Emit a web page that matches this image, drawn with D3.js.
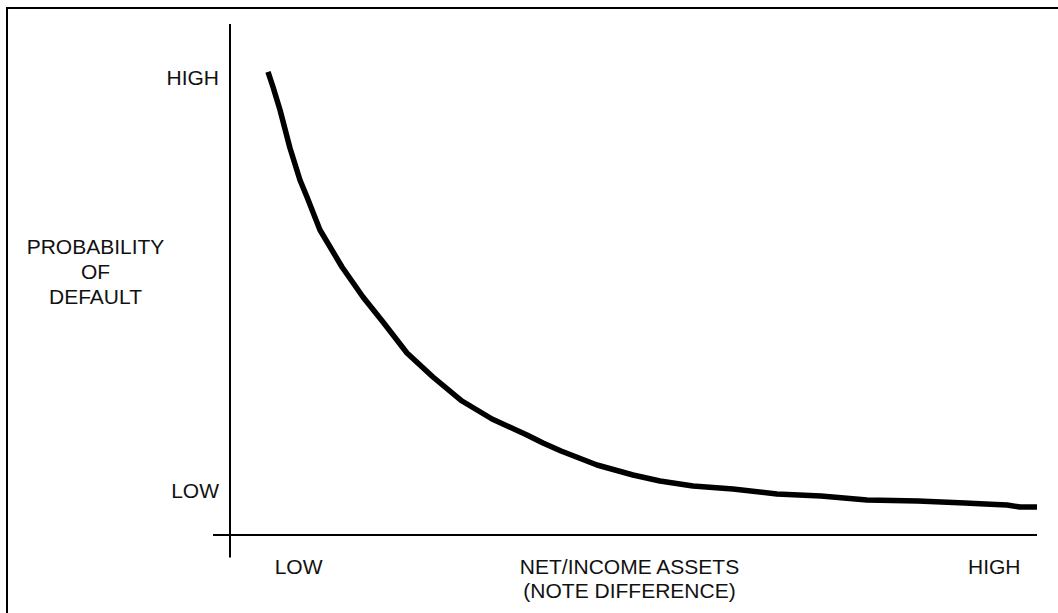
<!DOCTYPE html>
<html>
<head>
<meta charset="utf-8">
<script src="https://cdn.jsdelivr.net/npm/d3@7"></script>
<style>
  html, body { margin: 0; padding: 0; background: #fff; overflow: hidden; }
  svg { display: block; }
  text { font-family: Arial, "Liberation Sans", sans-serif; font-size: 21px; fill: #111; }
</style>
</head>
<body>
<svg id="chart" width="1058" height="613"></svg>
<script>
// Curve data (x: net/income assets, y: probability of default, 0-100 relative units)
const curveX = [4.71, 5.33, 6.20, 7.43, 8.67, 9.54, 11.15, 13.88, 16.48, 18.96, 21.93, 25.15, 28.75, 32.47, 36.80, 38.79, 41.02, 45.48, 49.94, 53.28, 57.37, 62.33, 67.78, 73.23, 78.93, 85.25, 91.08, 93.56, 96.28, 97.89, 100];
const curveY = [90.61, 87.67, 83.17, 75.73, 69.47, 66.14, 59.69, 52.45, 46.58, 41.68, 35.62, 30.92, 26.22, 22.70, 19.57, 18.00, 16.44, 13.70, 11.74, 10.57, 9.59, 9.00, 8.02, 7.63, 6.85, 6.65, 6.26, 6.07, 5.87, 5.48, 5.48];

// Axis labels
const yTickLabels = ["HIGH", "LOW"];
const yTickValues = [89.2, 8.4];
const xTickLabels = ["LOW", "HIGH"];
const xTickValues = [8.5, 94.7];
const yTitle = ["PROBABILITY", "OF", "DEFAULT"];
const xTitle = ["NET/INCOME ASSETS", "(NOTE DIFFERENCE)"];

const svg = d3.select("#chart");

const x = d3.scaleLinear().domain([0, 100]).range([230, 1037]);
const y = d3.scaleLinear().domain([0, 100]).range([535, 24]);

// Outer border (extends beyond right/bottom of the view)
svg.append("rect")
  .attr("x", 7).attr("y", 8)
  .attr("width", 1100).attr("height", 700)
  .attr("fill", "none")
  .attr("stroke", "#000")
  .attr("stroke-width", 2);

// Y axis line
svg.append("line")
  .attr("x1", x(0)).attr("x2", x(0))
  .attr("y1", y(100)).attr("y2", 557.5)
  .attr("stroke", "#000").attr("stroke-width", 2);

// X axis line
svg.append("line")
  .attr("x1", 213).attr("x2", x(100))
  .attr("y1", y(0)).attr("y2", y(0))
  .attr("stroke", "#000").attr("stroke-width", 2);

// Curve
const data = curveX.map((d, i) => [d, curveY[i]]);
svg.append("path")
  .datum(data)
  .attr("d", d3.line().x(d => x(d[0])).y(d => y(d[1])).curve(d3.curveLinear))
  .attr("fill", "none")
  .attr("stroke", "#000")
  .attr("stroke-width", 5.5)
  .attr("stroke-linejoin", "round")
  .attr("stroke-linecap", "butt");

// Y tick labels
svg.selectAll("text.ytick")
  .data(yTickLabels)
  .enter().append("text")
  .attr("class", "ytick")
  .attr("x", 219)
  .attr("y", (d, i) => y(yTickValues[i]))
  .attr("text-anchor", "end")
  .attr("dominant-baseline", "middle")
  .text(d => d);

// X tick labels
svg.selectAll("text.xtick")
  .data(xTickLabels)
  .enter().append("text")
  .attr("class", "xtick")
  .attr("x", (d, i) => x(xTickValues[i]))
  .attr("y", 574)
  .attr("text-anchor", "middle")
  .text(d => d);

// Y title
const yTitleBaselines = [254, 279, 304];
svg.selectAll("text.ytitle")
  .data(yTitle)
  .enter().append("text")
  .attr("class", "ytitle")
  .attr("x", 95.5)
  .attr("y", (d, i) => yTitleBaselines[i])
  .attr("text-anchor", "middle")
  .text(d => d);

// X title
const xTitleBaselines = [574, 597.5];
svg.selectAll("text.xtitle")
  .data(xTitle)
  .enter().append("text")
  .attr("class", "xtitle")
  .attr("x", 629.5)
  .attr("y", (d, i) => xTitleBaselines[i])
  .attr("text-anchor", "middle")
  .text(d => d);
</script>
</body>
</html>
